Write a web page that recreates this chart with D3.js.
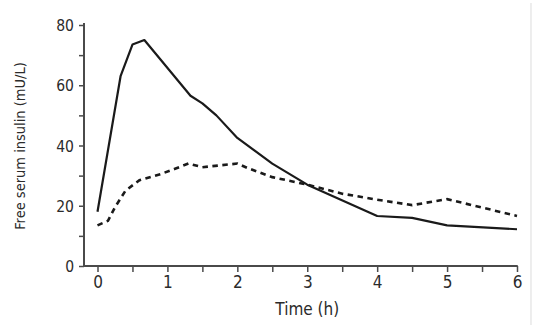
<!DOCTYPE html>
<html><head><meta charset="utf-8">
<script src="https://cdn.jsdelivr.net/npm/d3@7"></script>
<style>
html,body{margin:0;padding:0;background:#fff;}
svg text{font-family:"Liberation Sans Narrow","DejaVu Sans Condensed","Noto Sans",sans-serif;fill:#2b2b2b;}
</style></head>
<body>
<svg id="c" width="544" height="332"></svg>
<script>
// Data
const solidTime  = [0, 0.33, 0.5, 0.67, 1.33, 1.5, 1.7, 2, 2.5, 3, 4, 4.5, 5, 6];
const solidValue = [18, 63, 73.5, 75, 56.5, 54, 50, 42.5, 34, 27, 16.6, 16, 13.5, 12.2];
const dashTime   = [0, 0.15, 0.25, 0.4, 0.6, 0.9, 1.1, 1.3, 1.5, 2, 2.15, 2.5, 3, 3.5, 4, 4.5, 5, 6];
const dashValue  = [13.5, 15, 19.5, 25, 28.5, 30.5, 32.2, 34, 32.8, 34, 32.5, 29.5, 27, 24, 22, 20.2, 22.2, 16.6];
const xTickLabels = [0, 1, 2, 3, 4, 5, 6];
const yTickLabels = [0, 20, 40, 60, 80];
const xTitle = "Time (h)";
const yTitle = "Free serum insulin (mU/L)";

const svg = d3.select("#c");
const x = d3.scaleLinear().domain([0, 6]).range([97.5, 517]);
const y = d3.scaleLinear().domain([0, 80]).range([266, 25]);
const axisX0 = 84;

// light border on right
svg.append("line").attr("x1", 531).attr("x2", 531).attr("y1", 3).attr("y2", 325)
  .attr("stroke", "#e2e2e2").attr("stroke-width", 1.2);

const axisColor = "#4a4a4a";

// Y axis
const yAxis = d3.axisLeft(y).tickValues(d3.range(0, 81, 10)).tickSize(5)
  .tickFormat(d => yTickLabels.includes(d) ? d : "");
const gy = svg.append("g").attr("transform", `translate(${axisX0},0)`).call(yAxis);
gy.select(".domain").remove();
gy.selectAll(".tick line").attr("stroke", axisColor).attr("stroke-width", 1.5);
gy.selectAll(".tick text").attr("x", -10).attr("dy", "0.36em").style("font-size", "15.5px");
svg.append("line").attr("x1", axisX0).attr("x2", axisX0).attr("y1", y(80) - 2).attr("y2", y(0) + 1)
  .attr("stroke", axisColor).attr("stroke-width", 2);

// X axis
const xAxis = d3.axisBottom(x).tickValues(d3.range(0, 6.01, 0.5)).tickSize(6)
  .tickFormat(d => xTickLabels.includes(d) ? d : "");
const gx = svg.append("g").attr("transform", `translate(0,${y(0)})`).call(xAxis);
gx.select(".domain").remove();
gx.selectAll(".tick line").attr("stroke", axisColor).attr("stroke-width", 1.5);
gx.selectAll(".tick text").attr("y", 10).attr("dy", "0.71em")
  .style("font-size", "17px");
svg.append("line").attr("x1", axisX0 - 1).attr("x2", x(6) + 0.75).attr("y1", y(0)).attr("y2", y(0))
  .attr("stroke", axisColor).attr("stroke-width", 2);

// Titles
svg.append("text").attr("x", x(3)).attr("y", 315).attr("text-anchor", "middle")
  .style("font-size", "17px").text(xTitle);
svg.append("text").attr("transform", `translate(25,146) rotate(-90)`).attr("text-anchor", "middle")
  .style("font-size", "14.5px").text(yTitle);

// Lines
const line = d3.line().x(d => x(d[0])).y(d => y(d[1]));
svg.append("path").datum(solidTime.map((t, i) => [t, solidValue[i]]))
  .attr("d", line).attr("fill", "none").attr("stroke", "#1a1a1a").attr("stroke-width", 2.2)
  .attr("stroke-linejoin", "round");
svg.append("path").datum(dashTime.map((t, i) => [t, dashValue[i]]))
  .attr("d", line).attr("fill", "none").attr("stroke", "#1a1a1a").attr("stroke-width", 2.6)
  .attr("stroke-dasharray", "5.5,4.5");
</script>
</body></html>
